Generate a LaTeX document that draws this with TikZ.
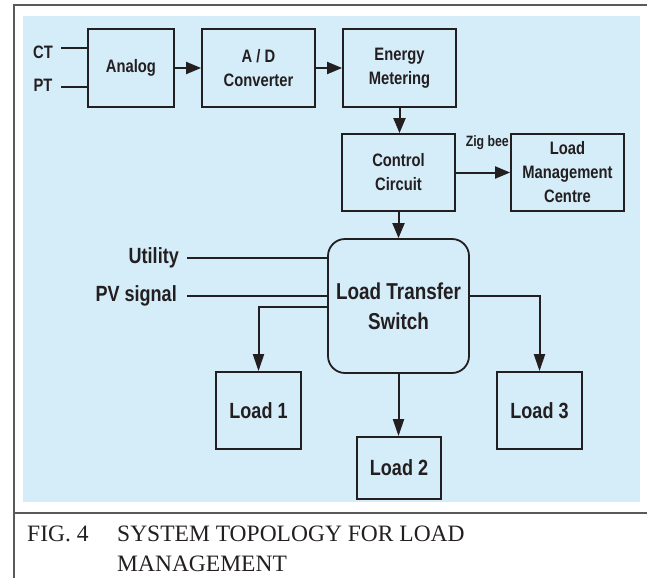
\documentclass[tikz,border=0pt]{standalone}
\usepackage{fontspec}
\setmainfont{Liberation Serif}
\newfontfamily\cond[FakeStretch=0.82]{Liberation Sans}
\usetikzlibrary{arrows.meta}
\definecolor{bgblue}{HTML}{D5ECF9}
\definecolor{ink}{HTML}{231F20}
\definecolor{framegray}{HTML}{5A5A5A}
\tikzset{
  blk/.style={draw=ink, line width=1.8pt, rectangle, align=center, text=ink,
    font=\cond\bfseries\fontsize{18}{24}\selectfont, inner sep=0pt},
  loadbox/.style={blk, font=\cond\bfseries\fontsize{22}{28}\selectfont},
  lbl/.style={text=ink, inner sep=0pt},
  conn/.style={draw=ink, line width=2pt},
  arr/.style={conn, -{Triangle[length=15pt,width=12pt]}},
  sarr/.style={conn, -{Triangle[length=17pt,width=11pt]}},
  captxt/.style={lbl, anchor=base west, font=\fontsize{23.5}{30}\selectfont},
}
\begin{document}
\begin{tikzpicture}[x=1pt,y=-1pt]
\useasboundingbox (0,0) rectangle (647,578);
% frame and background
\fill[bgblue] (23,16) rectangle (640,502);
\draw[framegray, line width=2pt] (14,578) -- (14,5) -- (647,5);
\draw[framegray, line width=2pt] (14,513) -- (647,513);
% blocks
\node[blk, minimum width=86pt, minimum height=78pt] (an) at (131,68) {Analog};
\node[blk, minimum width=113pt, minimum height=78pt] (ad) at (258.5,68) {A / D\\Converter};
\node[blk, minimum width=113pt, minimum height=78pt] (em) at (399.5,68) {Energy\\Metering};
\node[blk, minimum width=113pt, minimum height=77pt] (cc) at (398.5,172.5) {Control\\Circuit};
\node[blk, minimum width=113pt, minimum height=77pt] (lmc) at (567.5,172.5) {Load\\Management\\Centre};
\node[blk, rounded corners=17pt, minimum width=141pt, minimum height=134pt,
  font=\cond\bfseries\fontsize{23}{30}\selectfont] (lts) at (398.5,306) {Load Transfer\\Switch};
\node[loadbox, minimum width=85pt, minimum height=77pt] (l1) at (258.5,410.5) {Load 1};
\node[loadbox, minimum width=84pt, minimum height=62pt] (l2) at (399,468) {Load 2};
\node[loadbox, minimum width=85pt, minimum height=77pt] (l3) at (539.5,410.5) {Load 3};
% input labels
\node[lbl, font=\cond\bfseries\fontsize{18}{22}\selectfont] (ct) at (43,52) {CT};
\node[lbl, font=\cond\bfseries\fontsize{18}{22}\selectfont] (pt) at (43,85) {PT};
\coordinate (ctl) at (61,48);
\coordinate (ptl) at (61,87);
\draw[conn] (ctl) -- (ctl -| an.west);
\draw[conn] (ptl) -- (ptl -| an.west);
\node[lbl, anchor=east, font=\cond\bfseries\fontsize{22}{26}\selectfont] (ut) at (179,258) {Utility};
\node[lbl, anchor=east, font=\cond\bfseries\fontsize{22}{26}\selectfont] (pv) at (177,296) {PV signal};
\coordinate (utl) at (187,258);
\coordinate (pvl) at (187,296);
\draw[conn] (utl) -- (utl -| lts.west);
\draw[conn] (pvl) -- (pvl -| lts.west);
\node[lbl, anchor=east, font=\cond\bfseries\fontsize{15}{17}\selectfont] (zb) at (509,143) {Zig bee};
% arrows
\draw[arr] (an) -- (ad);
\draw[arr] (ad) -- (em);
\draw[arr] (em.south) -- (em.south |- cc.north);
\draw[arr] (cc) -- (lmc);
\draw[arr] (cc.south) -- (cc.south |- lts.north);
\coordinate (l1o) at (328,307);
\coordinate (l3o) at (469,296);
\draw[sarr] (l1o -| lts.west) -| (l1.north);
\draw[sarr] (l3o -| lts.east) -| (l3.north);
\draw[sarr] (lts.south) -- (lts.south |- l2.north);
% caption
\node[captxt] (fig) at (27,541) {FIG. 4};
\node[captxt] (cap1) at (117,541) {SYSTEM TOPOLOGY FOR LOAD};
\node[captxt] (cap2) at (117,571) {MANAGEMENT};
\end{tikzpicture}
\end{document}
